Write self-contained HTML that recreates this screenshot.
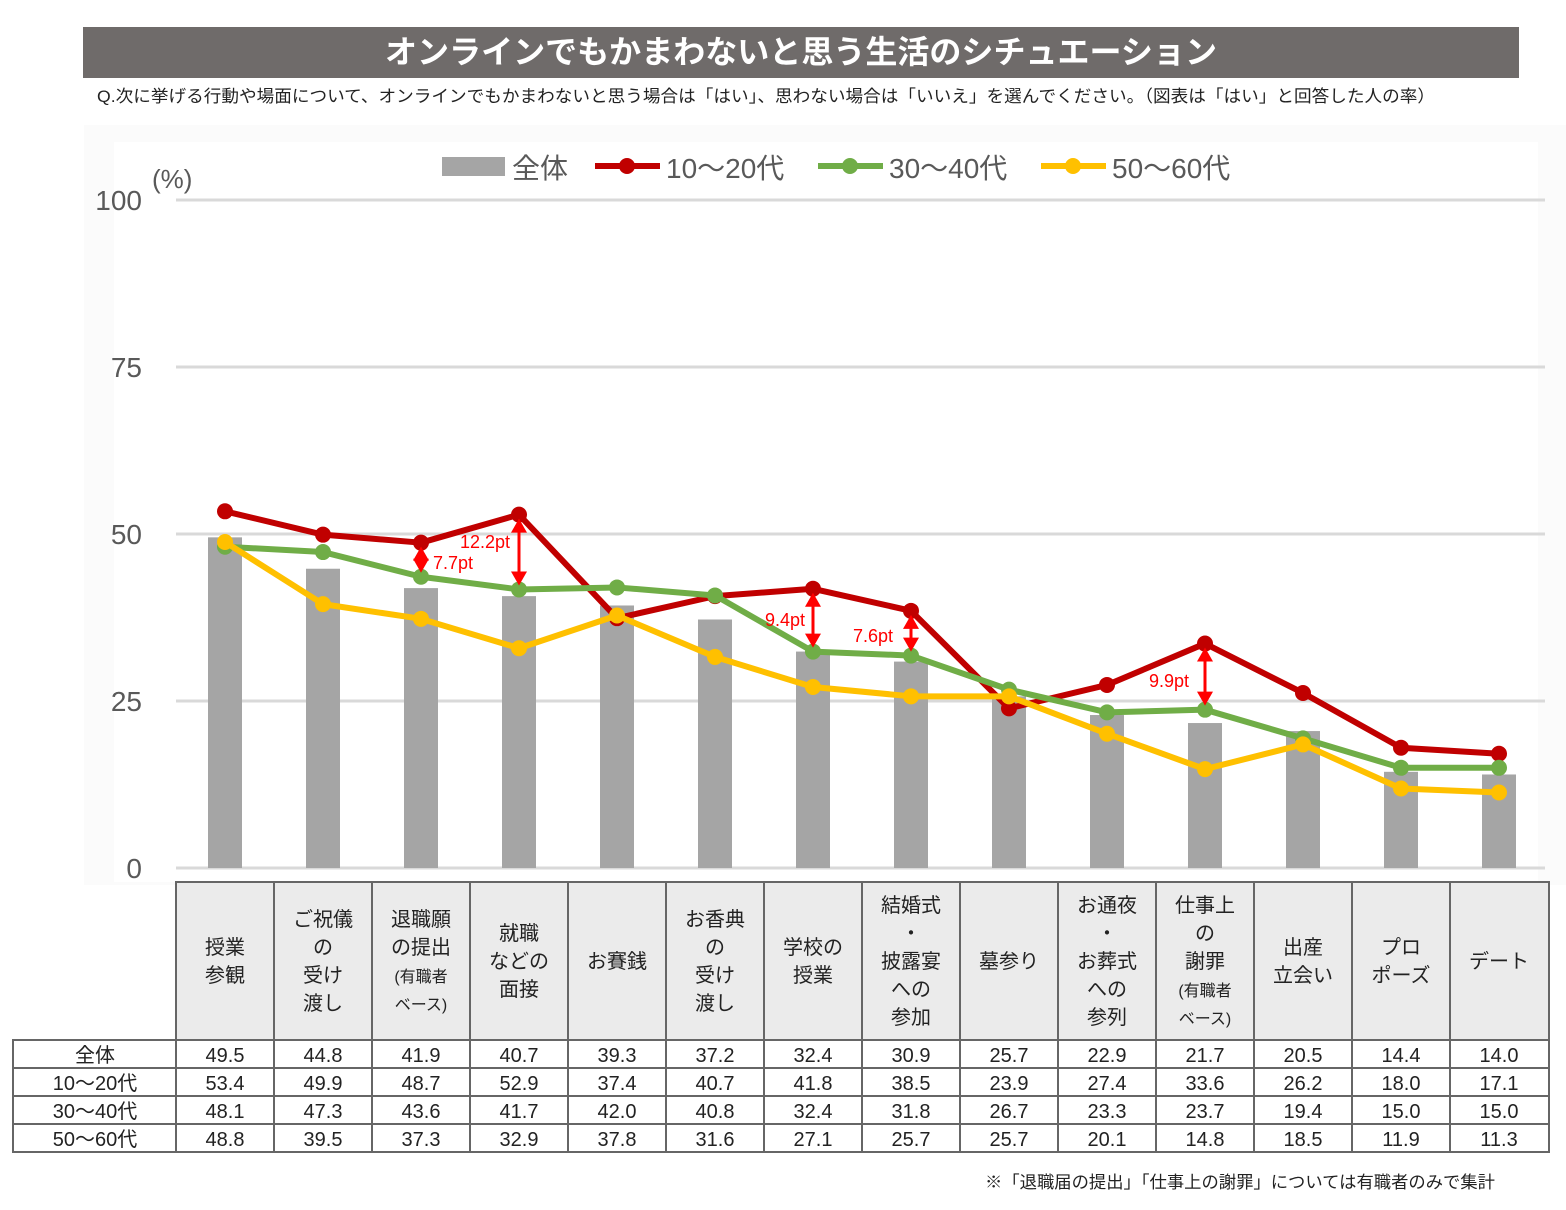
<!DOCTYPE html>
<html><head><meta charset="utf-8"><style>
html,body{margin:0;padding:0;background:#fff;}
svg{display:block;font-family:"Liberation Sans","Noto Sans CJK JP",sans-serif;}
</style></head><body>
<svg id="s" width="1566" height="1210" viewBox="0 0 1566 1210" xmlns="http://www.w3.org/2000/svg">
<rect x="0" y="0" width="1566" height="1210" fill="#fff"/>
<rect x="84" y="125" width="1482" height="760" fill="#fbfbfb"/>
<rect x="114" y="142" width="1424" height="740" fill="#fff"/>
<rect x="83" y="27" width="1436" height="51" fill="#6f6b6a"/>
<text x="385" y="63" textLength="832" lengthAdjust="spacingAndGlyphs" font-size="32" font-weight="bold" fill="#fff" font-family="Noto Sans CJK JP, sans-serif">オンラインでもかまわないと思う生活のシチュエーション</text>
<text x="97" y="102" textLength="1338" lengthAdjust="spacingAndGlyphs" font-size="17" fill="#222">Q.次に挙げる行動や場面について、オンラインでもかまわないと思う場合は「はい」、思わない場合は「いいえ」を選んでください。（図表は「はい」と回答した人の率）</text>
<g id="g"></g>
<text x="985" y="1188" textLength="510" lengthAdjust="spacingAndGlyphs" font-size="17" fill="#222">※「退職届の提出」「仕事上の謝罪」については有職者のみで集計</text>
</svg>
<script>
const g=document.getElementById('g');let h='';
const Y=v=>868-v*6.68, X=i=>225+98*i;
const all=[49.5,44.8,41.9,40.7,39.3,37.2,32.4,30.9,25.7,22.9,21.7,20.5,14.4,14.0];
const r=[53.4,49.9,48.7,52.9,37.4,40.7,41.8,38.5,23.9,27.4,33.6,26.2,18.0,17.1];
const gr=[48.1,47.3,43.6,41.7,42.0,40.8,32.4,31.8,26.7,23.3,23.7,19.4,15.0,15.0];
const y5=[48.8,39.5,37.3,32.9,37.8,31.6,27.1,25.7,25.7,20.1,14.8,18.5,11.9,11.3];
[[0,'0'],[25,'25'],[50,'50'],[75,'75'],[100,'100']].forEach(([v,t])=>{
 h+=`<line x1="176" x2="1545" y1="${Y(v)}" y2="${Y(v)}" stroke="#d9d9d9" stroke-width="3"/>`;
 h+=`<text x="142" y="${Y(v)+10}" text-anchor="end" font-size="28" fill="#595959">${t}</text>`;});
h+=`<text x="152" y="188" font-size="26" fill="#595959">(%)</text>`;
all.forEach((v,i)=>h+=`<rect x="${X(i)-17}" y="${Y(v)}" width="34" height="${868-Y(v)}" fill="#a5a5a5"/>`);
function line(d,c){h+=`<polyline fill="none" stroke="${c}" stroke-width="6" stroke-linejoin="round" points="${d.map((v,i)=>X(i)+','+Y(v)).join(' ')}"/>`;
 d.forEach((v,i)=>h+=`<circle cx="${X(i)}" cy="${Y(v)}" r="8" fill="${c}"/>`);}
line(r,'#c00000');line(gr,'#70ad47');line(y5,'#ffc000');
function arrow(i,a,b){const x=X(i),y1=Y(a)+4,y2=Y(b)-4;
 h+=`<line x1="${x}" x2="${x}" y1="${y1+12}" y2="${y2-12}" stroke="#f00" stroke-width="3"/>`;
 h+=`<polygon points="${x},${y1} ${x-8},${y1+14} ${x+8},${y1+14}" fill="#f00"/>`;
 h+=`<polygon points="${x},${y2} ${x-8},${y2-14} ${x+8},${y2-14}" fill="#f00"/>`;}
arrow(2,48.7,43.6);arrow(3,52.9,41.7);arrow(6,41.8,32.4);arrow(7,38.5,31.8);arrow(10,33.6,23.7);
[[460,548,'12.2pt'],[433,569,'7.7pt'],[765,626,'9.4pt'],[853,642,'7.6pt'],[1149,687,'9.9pt']].forEach(([x,y,t])=>h+=`<text x="${x}" y="${y}" font-size="18" fill="#f00">${t}</text>`);
h+=`<rect x="442" y="157" width="63" height="19" fill="#a5a5a5"/><text x="512" y="178" font-size="28" fill="#595959">全体</text>`;
[[595,'#c00000','10～20代'],[818,'#70ad47','30～40代'],[1041,'#ffc000','50～60代']].forEach(([x,c,t])=>{
 h+=`<line x1="${x}" x2="${x+65}" y1="166" y2="166" stroke="${c}" stroke-width="6"/><circle cx="${x+32}" cy="166" r="8" fill="${c}"/><text x="${x+71}" y="178" font-size="28" fill="#595959">${t}</text>`;});
h+=`<rect x="176" y="882" width="1373" height="158" fill="#ebebeb"/>`;
const hd=[['授業','参観'],['ご祝儀','の','受け','渡し'],['退職願','の提出','*(有職者','*ベース)'],['就職','などの','面接'],['お賽銭'],['お香典','の','受け','渡し'],['学校の','授業'],['結婚式','・','披露宴','への','参加'],['墓参り'],['お通夜','・','お葬式','への','参列'],['仕事上','の','謝罪','*(有職者','*ベース)'],['出産','立会い'],['プロ','ポーズ'],['デート']];
hd.forEach((ls,i)=>{const n=ls.length;const y0=961-(n-1)*14;ls.forEach((t,k)=>{let s=20;if(t[0]=='*'){t=t.slice(1);s=16;}
 h+=`<text x="${X(i)}" y="${y0+k*28+7}" text-anchor="middle" font-size="${s}" fill="#222">${t}</text>`;});});
const rows=[['全体',all],['10～20代',r],['30～40代',gr],['50～60代',y5]];
rows.forEach(([l,d],k)=>{const y=1040+28*k+22;
 h+=`<text x="95" y="${y}" text-anchor="middle" font-size="20" fill="#222">${l}</text>`;
 d.forEach((v,i)=>h+=`<text x="${X(i)}" y="${y}" text-anchor="middle" font-size="20" fill="#222">${v.toFixed(1)}</text>`);});
const st='stroke="#666" stroke-width="2"';
h+=`<rect x="176" y="882" width="1373" height="270" fill="none" ${st}/>`;
for(let i=1;i<14;i++)h+=`<line x1="${176+98*i}" x2="${176+98*i}" y1="882" y2="1152" ${st}/>`;
h+=`<rect x="13" y="1040" width="163" height="112" fill="none" ${st}/>`;
for(let k=0;k<4;k++)h+=`<line x1="13" x2="1549" y1="${1040+28*k}" y2="${1040+28*k}" ${st}/>`;
g.innerHTML=h;
</script>
</body></html>
